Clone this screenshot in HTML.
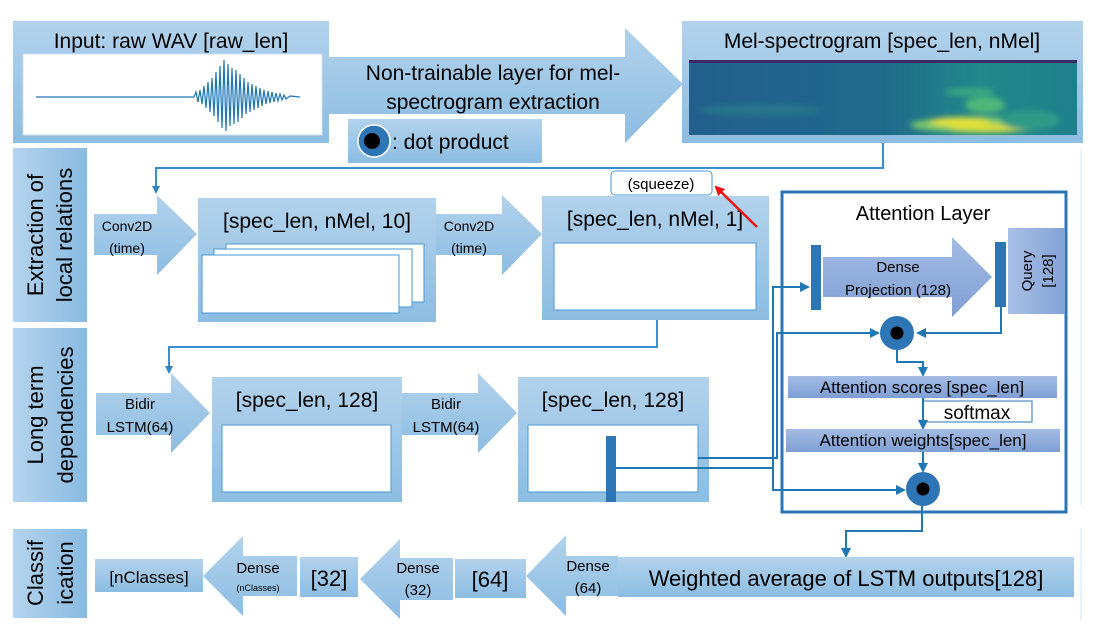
<!DOCTYPE html>
<html><head><meta charset="utf-8"><style>
html,body{margin:0;padding:0;background:#fff;}
svg{display:block;font-family:"Liberation Sans",sans-serif;}
</style></head><body>
<svg width="1109" height="642" viewBox="0 0 1109 642" xmlns="http://www.w3.org/2000/svg">
<defs>
<linearGradient id="g" x1="0" y1="0" x2="0" y2="1"><stop offset="0" stop-color="#b2d2ec"/><stop offset="1" stop-color="#8cbde2"/></linearGradient>
<linearGradient id="gh" x1="0" y1="0" x2="1" y2="0"><stop offset="0" stop-color="#b5d4ee"/><stop offset="1" stop-color="#88bae1"/></linearGradient>
<linearGradient id="gp" x1="0" y1="0" x2="0" y2="1"><stop offset="0" stop-color="#a3bce4"/><stop offset="1" stop-color="#7f9fd4"/></linearGradient>
<linearGradient id="gq" x1="0" y1="0" x2="1" y2="0"><stop offset="0" stop-color="#a9c0e6"/><stop offset="1" stop-color="#84a2d6"/></linearGradient>
<linearGradient id="spec" x1="0" y1="0" x2="1" y2="0"><stop offset="0" stop-color="#235f8c"/><stop offset="0.5" stop-color="#1f6a8c"/><stop offset="0.75" stop-color="#22888a"/><stop offset="1" stop-color="#1f7f8b"/></linearGradient>
<filter id="blur"><feGaussianBlur stdDeviation="3"/></filter>
<marker id="ar" markerWidth="8" markerHeight="8" refX="6" refY="4" orient="auto" markerUnits="userSpaceOnUse"><path d="M0,0 L8,4 L0,8 z" fill="#2e86c1"/></marker>
<marker id="ar2" markerWidth="10" markerHeight="10" refX="8" refY="5" orient="auto" markerUnits="userSpaceOnUse"><path d="M0,0 L10,5 L0,10 z" fill="#1f77b4"/></marker>
<marker id="arr" markerWidth="10" markerHeight="10" refX="8" refY="5" orient="auto" markerUnits="userSpaceOnUse"><path d="M0,0 L10,5 L0,10 z" fill="#ee1111"/></marker>
</defs>

<!-- faint right line -->
<line x1="1081" y1="150" x2="1081" y2="505" stroke="#d5e3f0" stroke-width="1"/>
<line x1="1081" y1="528" x2="1081" y2="620" stroke="#d5e3f0" stroke-width="1"/>

<!-- Input box -->
<rect x="13" y="21" width="316" height="122" fill="url(#g)"/>
<text x="171" y="48" font-size="21" text-anchor="middle">Input: raw WAV [raw_len]</text>
<rect x="23" y="54" width="299" height="81" fill="#fff" stroke="#cfe0ee"/>
<line x1="36" y1="97" x2="194" y2="97" stroke="#1f77b4" stroke-width="1.3"/>
<polyline fill="none" stroke="#1f77b4" stroke-width="1.2" points="194,97 196,92 198,102 200,90 202,104 204,86 206,108 208,82 210,112 212,78 214,116 216,72 218,122 220,66 222,128 224,60 226,131 228,64 230,126 232,68 234,124 236,70 238,122 240,74 242,118 244,78 246,114 248,82 250,112 252,84 254,110 256,86 258,108 260,88 262,106 264,90 266,104 268,91 270,103 272,92 274,102 276,93 278,101 280,94 282,100 284,95 286,99 290,96 300,97"/>

<!-- big arrow -->
<polygon points="329,57 625,57 625,28 683,84 625,143 625,114 329,114" fill="url(#g)"/>
<text x="493" y="80" font-size="21" text-anchor="middle">Non-trainable layer for mel-</text>
<text x="493" y="109" font-size="21" text-anchor="middle">spectrogram extraction</text>

<!-- dot product legend -->
<rect x="348" y="119" width="194" height="44" fill="url(#g)"/>
<circle cx="374" cy="141" r="16" fill="#2e75b6" stroke="#fff" stroke-width="1.5"/>
<circle cx="372" cy="141" r="8" fill="#000"/>
<text x="392" y="149" font-size="21">: dot product</text>

<!-- Mel box -->
<rect x="682" y="21" width="401" height="122" fill="url(#g)"/>
<text x="882" y="48" font-size="21" text-anchor="middle">Mel-spectrogram [spec_len, nMel]</text>
<rect x="689" y="60" width="388" height="75" fill="url(#spec)"/>
<rect x="689" y="60" width="388" height="3" fill="#3b2a63"/>
<g filter="url(#blur)">
<ellipse cx="760" cy="110" rx="60" ry="6" fill="#2a7a8c" opacity="0.7"/>
<ellipse cx="980" cy="125" rx="70" ry="8" fill="#7cc76a"/>
<ellipse cx="960" cy="122" rx="30" ry="5" fill="#e2e03a"/>
<ellipse cx="990" cy="128" rx="40" ry="4" fill="#d9de3b"/>
<ellipse cx="985" cy="105" rx="20" ry="8" fill="#4fb877"/>
<ellipse cx="970" cy="92" rx="25" ry="4" fill="#3ca77f"/>
<ellipse cx="1030" cy="120" rx="30" ry="10" fill="#2e9a86"/>
</g>

<!-- connector mel -> conv2d -->
<polyline points="883,143 883,168 156,168 156,192" fill="none" stroke="#3a8fcf" stroke-width="2" marker-end="url(#ar)"/>

<!-- Left labels -->
<rect x="13" y="148" width="74" height="174" fill="url(#gh)"/>
<text transform="translate(43,235) rotate(-90)" font-size="22" text-anchor="middle">Extraction of</text>
<text transform="translate(72,235) rotate(-90)" font-size="22" text-anchor="middle">local relations</text>
<rect x="13" y="328" width="74" height="174" fill="url(#gh)"/>
<text transform="translate(43,415) rotate(-90)" font-size="22" text-anchor="middle">Long term</text>
<text transform="translate(73,415) rotate(-90)" font-size="22" text-anchor="middle">dependencies</text>
<rect x="13" y="529" width="74" height="89" fill="url(#gh)"/>
<text transform="translate(43,573) rotate(-90)" font-size="22" text-anchor="middle">Classif</text>
<text transform="translate(73,573) rotate(-90)" font-size="22" text-anchor="middle">ication</text>

<!-- Conv2D arrow 1 -->
<polygon points="94,214 157,214 157,195 197,234 157,275 157,255 94,255" fill="url(#g)"/>
<text x="127" y="231" font-size="14" text-anchor="middle">Conv2D</text>
<text x="127" y="253" font-size="14" text-anchor="middle">(time)</text>

<!-- box nMel,10 -->
<rect x="198" y="198" width="238" height="124" fill="url(#g)"/>
<text x="317" y="228" font-size="21" text-anchor="middle">[spec_len, nMel, 10]</text>
<rect x="226" y="244" width="198" height="58" fill="#fff" stroke="#4a9ad6"/>
<rect x="214" y="249" width="198" height="58" fill="#fff" stroke="#4a9ad6"/>
<rect x="202" y="255" width="197" height="58" fill="#fff" stroke="#4a9ad6"/>

<!-- Conv2D arrow 2 -->
<polygon points="436,214 502,214 502,195 542,234 502,275 502,255 436,255" fill="url(#g)"/>
<text x="469" y="231" font-size="14" text-anchor="middle">Conv2D</text>
<text x="469" y="253" font-size="14" text-anchor="middle">(time)</text>

<!-- box nMel,1 -->
<rect x="542" y="196" width="227" height="124" fill="url(#g)"/>
<text x="655" y="226" font-size="21" text-anchor="middle">[spec_len, nMel, 1]</text>
<rect x="554" y="243" width="202" height="67" fill="#fff" stroke="#4a9ad6"/>

<!-- squeeze -->
<rect x="611" y="171" width="101" height="24" rx="4" fill="#fff" stroke="#4a9ad6"/>
<text x="661" y="189" font-size="15" text-anchor="middle">(squeeze)</text>
<line x1="757" y1="227" x2="716" y2="187" stroke="#ee1111" stroke-width="2.5" marker-end="url(#arr)"/>

<!-- connector to Bidir -->
<polyline points="657,320 657,347 169,347 169,372" fill="none" stroke="#3a8fcf" stroke-width="2" marker-end="url(#ar)"/>

<!-- Bidir 1 -->
<polygon points="96,393 171,393 171,373 210,413 171,453 171,435 96,435" fill="url(#g)"/>
<text x="140" y="409" font-size="15" text-anchor="middle">Bidir</text>
<text x="140" y="432" font-size="15" text-anchor="middle">LSTM(64)</text>
<rect x="212" y="377" width="190" height="125" fill="url(#g)"/>
<text x="307" y="407" font-size="21" text-anchor="middle">[spec_len, 128]</text>
<rect x="222" y="425" width="169" height="67" fill="#fff" stroke="#4a9ad6"/>

<!-- Bidir 2 -->
<polygon points="402,393 478,393 478,373 517,413 478,453 478,435 402,435" fill="url(#g)"/>
<text x="446" y="409" font-size="15" text-anchor="middle">Bidir</text>
<text x="446" y="432" font-size="15" text-anchor="middle">LSTM(64)</text>
<rect x="518" y="377" width="191" height="125" fill="url(#g)"/>
<text x="613" y="407" font-size="21" text-anchor="middle">[spec_len, 128]</text>
<rect x="528" y="425" width="170" height="67" fill="#fff" stroke="#4a9ad6"/>
<rect x="606" y="436" width="10" height="66" fill="#2e75b6"/>

<!-- Attention box -->
<rect x="782" y="192" width="284" height="320" fill="#fff" stroke="#2e75b6" stroke-width="3"/>
<text x="923" y="220" font-size="20" text-anchor="middle">Attention Layer</text>
<rect x="811" y="245" width="10" height="65" fill="#2e75b6"/>
<polygon points="823,257 952,257 952,237 992,277 952,317 952,297 823,297" fill="url(#gp)"/>
<text x="898" y="272" font-size="15" text-anchor="middle">Dense</text>
<text x="898" y="295" font-size="15" text-anchor="middle">Projection (128)</text>
<rect x="995" y="242" width="11" height="65" fill="#2e75b6"/>
<rect x="1008" y="228" width="57" height="86" fill="url(#gq)"/>
<text transform="translate(1032,271) rotate(-90)" font-size="15" text-anchor="middle">Query</text>
<text transform="translate(1053,271) rotate(-90)" font-size="15" text-anchor="middle">[128]</text>

<!-- connectors LSTM -> attention -->
<polyline points="698,458 777,458 777,333 878,333" fill="none" stroke="#1f77b4" stroke-width="2" marker-end="url(#ar2)"/>
<polyline points="616,468 773,468 773,287 808,287" fill="none" stroke="#1f77b4" stroke-width="2" marker-end="url(#ar2)"/>
<polyline points="773,468 773,490 904,490" fill="none" stroke="#1f77b4" stroke-width="2" marker-end="url(#ar2)"/>

<!-- dot 1 -->
<polyline points="1001,307 1001,333 918,333" fill="none" stroke="#1f77b4" stroke-width="2" marker-end="url(#ar2)"/>
<circle cx="897" cy="333" r="17" fill="#2e75b6"/>
<circle cx="897" cy="333" r="6.5" fill="#000"/>
<polyline points="897,350 897,362 923,362 923,375" fill="none" stroke="#1f77b4" stroke-width="2" marker-end="url(#ar2)"/>

<rect x="788" y="376" width="269" height="22" fill="url(#gp)"/>
<text x="922" y="393" font-size="17" text-anchor="middle">Attention scores [spec_len]</text>
<rect x="923" y="401" width="109" height="21" fill="#fff" stroke="#2e75b6"/>
<text x="977" y="419" font-size="19" text-anchor="middle">softmax</text>
<line x1="923" y1="398" x2="923" y2="428" stroke="#1f77b4" stroke-width="2" marker-end="url(#ar2)"/>
<rect x="786" y="429" width="274" height="23" fill="url(#gp)"/>
<text x="923" y="446" font-size="17" text-anchor="middle">Attention weights[spec_len]</text>
<line x1="923" y1="452" x2="923" y2="471" stroke="#1f77b4" stroke-width="2" marker-end="url(#ar2)"/>
<circle cx="923" cy="489" r="17" fill="#2e75b6"/>
<circle cx="923" cy="489" r="6.5" fill="#000"/>

<!-- to weighted avg -->
<polyline points="922,506 922,531 846,531 846,556" fill="none" stroke="#1f77b4" stroke-width="2" marker-end="url(#ar2)"/>

<!-- bottom row -->
<rect x="618" y="557" width="456" height="40" fill="url(#g)"/>
<text x="846" y="586" font-size="22" text-anchor="middle">Weighted average of LSTM outputs[128]</text>
<polygon points="618,556 566,556 566,535 526,576 566,616 566,596 618,596" fill="url(#g)"/>
<text x="588" y="571" font-size="15" text-anchor="middle">Dense</text>
<text x="588" y="593" font-size="15" text-anchor="middle">(64)</text>
<rect x="455" y="559" width="71" height="39" fill="url(#g)"/>
<text x="490" y="587" font-size="22" text-anchor="middle">[64]</text>
<polygon points="453,558 400,558 400,539 360,579 400,619 400,600 453,600" fill="url(#g)"/>
<text x="418" y="573" font-size="15" text-anchor="middle">Dense</text>
<text x="418" y="595" font-size="15" text-anchor="middle">(32)</text>
<rect x="300" y="557" width="58" height="40" fill="url(#g)"/>
<text x="329" y="586" font-size="22" text-anchor="middle">[32]</text>
<polygon points="297,556 243,556 243,536 203,576 243,616 243,596 297,596" fill="url(#g)"/>
<text x="258" y="573" font-size="15" text-anchor="middle">Dense</text>
<text x="258" y="591" font-size="9" text-anchor="middle">(nClasses)</text>
<rect x="95" y="559" width="108" height="33" fill="url(#g)"/>
<text x="149" y="583" font-size="17" text-anchor="middle">[nClasses]</text>
</svg>
</body></html>
